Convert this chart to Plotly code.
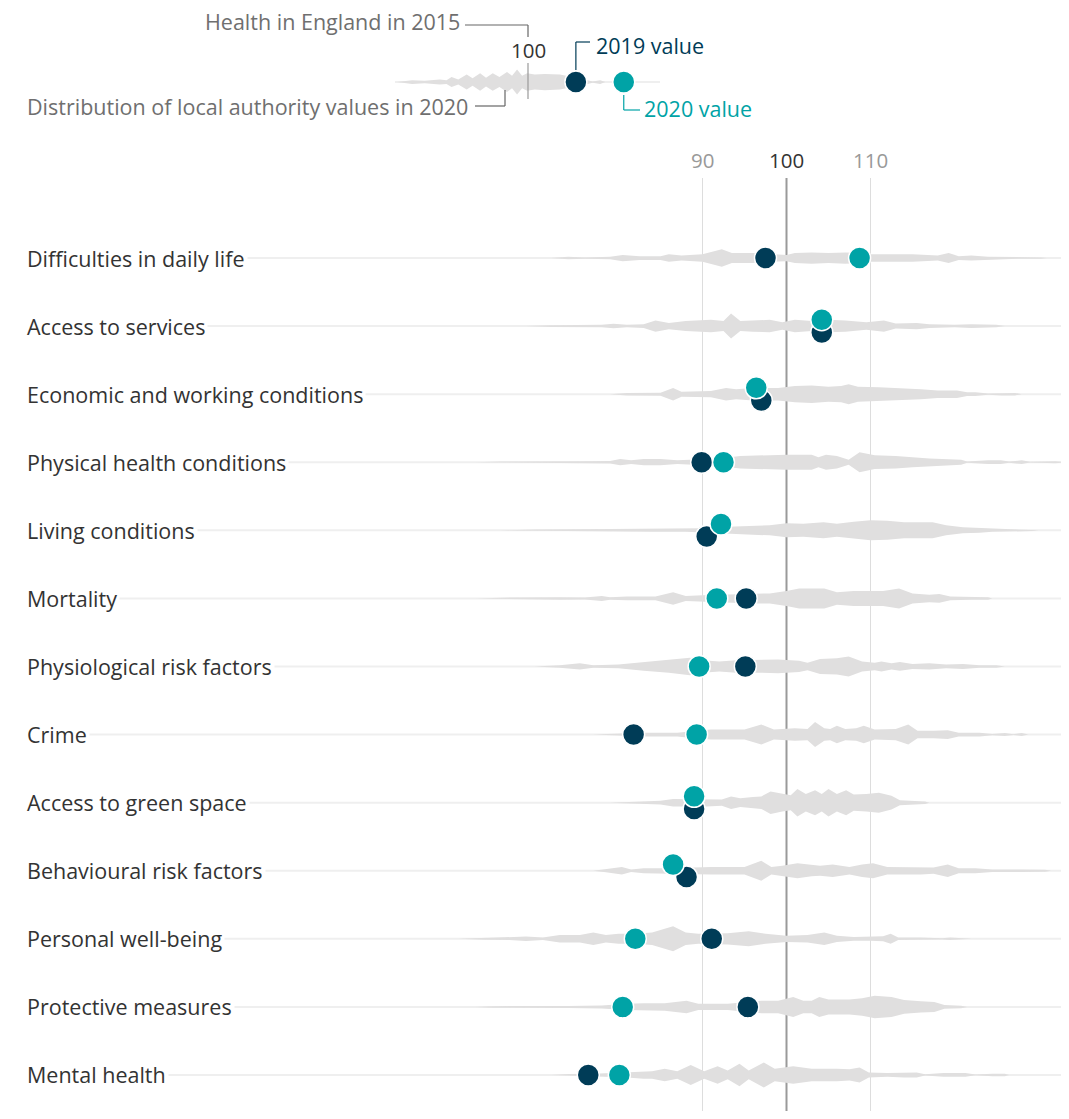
import plotly.graph_objects as go

# indicator rows, top to bottom
rows = ["Difficulties in daily life", "Access to services", "Economic and working conditions",
        "Physical health conditions", "Living conditions", "Mortality", "Physiological risk factors",
        "Crime", "Access to green space", "Behavioural risk factors", "Personal well-being",
        "Protective measures", "Mental health"]

# England index values (2015 = 100)
v2019 = [97.5, 104.2, 97.0, 89.9, 90.5, 95.2, 95.1, 81.8, 89.0, 88.1, 91.1, 95.4, 76.4]
v2020 = [108.7, 104.2, 96.4, 92.5, 92.2, 91.7, 89.6, 89.3, 89.0, 86.5, 82.0, 80.5, 80.1]

tick_vals = [90, 100, 110]

# distribution of local authority values in 2020, (value, density)
difficulties = [(72, 0), (74, 1), (76, 0.5), (79, 1), (80.5, 2.5), (82.5, 1.5), (85, 1.5), (86, 3), (87.5, 2),
                (90, 3), (92.3, 7), (93.5, 4), (96, 4), (98, 3), (100, 2.5), (101, 4), (103, 4.5), (105, 4),
                (107, 4.5), (108.7, 4), (110, 3), (112, 3), (115, 3), (118, 2), (119.3, 4), (120.5, 1.5),
                (122, 2), (124, 1), (126, 1), (128, 0.5), (130.3, 0.5), (131, 0)]
access = [(69, 0), (72, 0.7), (78, 1), (79.4, 1.8), (81, 1), (83, 1.5), (84.4, 4.5), (86, 2.5), (88, 4),
          (91, 5), (92.5, 4), (93.4, 10), (94.5, 4), (96, 4.5), (98, 5), (99.5, 3), (101, 5), (103, 4),
          (105, 5), (107, 4.5), (109.5, 3), (111.6, 4.5), (113, 2), (115.5, 2.5), (117, 1.5), (120, 1),
          (122, 1.5), (125, 1), (126, 0)]
economic = [(79, 0), (81, 1), (85, 1.2), (86.5, 5), (87.5, 2), (91, 2.5), (92.8, 5), (94, 4), (96, 5),
            (99, 5), (101, 6.5), (103, 7), (105, 6), (106.5, 6.5), (107.4, 8), (108.5, 6), (111, 5.5),
            (113, 5), (116, 4), (118, 3), (120.3, 3), (121.5, 1.5), (122.5, 1.5), (124, 0.5), (125.6, 1),
            (127.2, 1), (128, 0)]
physical = [(63, 0), (66, 0.6), (75, 0.8), (79, 1), (80.2, 2.5), (81.5, 1.5), (83, 2.5), (85, 2.5),
            (87, 1.5), (89, 2), (92, 3), (94.5, 5), (97, 5.5), (100, 6), (103, 6), (103.8, 4), (104.7, 6),
            (106, 5), (107.4, 2), (108.7, 8), (110.5, 5.5), (113, 5), (115, 4), (117, 3), (120.8, 2),
            (121.5, 0.5), (124, 1.5), (125.5, 1.5), (126.5, 0.5), (128, 1.5), (129, 0.3), (132, 0.8),
            (133.5, 0)]
living = [(66, 0), (70, 0.6), (79, 1), (84, 1.2), (88, 1.2), (90, 1.6), (93, 2.8), (96, 3.6), (98, 4),
          (100, 5.6), (102, 5.2), (104.4, 6.4), (106, 5.2), (108, 6.8), (110, 8), (112, 7.6), (114, 6.4),
          (117.4, 6.4), (119, 4), (121, 2.4), (123, 2), (124.5, 1.2), (126, 0.8), (129.4, 0.6), (130, 0)]
mortality = [(63, 0), (66, 0.6), (73, 1), (76, 0.8), (78, 2), (79, 1), (81, 1.5), (84.4, 1.5), (86.5, 5),
             (88, 2), (90, 2.5), (92, 3), (96, 4), (98, 4), (100, 6), (101.5, 8), (104.5, 8), (106, 5),
             (108, 6), (111.5, 6), (113.4, 8), (115, 4), (117, 3), (118.2, 3.5), (119.5, 1.5), (122, 1),
             (124, 1), (124.5, 0)]
physiological = [(70, 0), (73, 1), (75.4, 2.5), (77, 1), (80, 1.5), (83, 3.5), (86, 5), (88.5, 7), (90, 5),
                 (92, 4), (94, 5), (97, 5), (99, 5.5), (101.5, 4.5), (102.5, 3), (104, 6), (106, 6.5),
                 (107.4, 8), (109, 4), (110.5, 3), (111.3, 4), (112.5, 2.5), (113.5, 3.5), (115, 2),
                 (117, 2.5), (119, 1.5), (121, 2), (123, 1), (125, 1), (126, 0)]
crime = [(77, 0), (80, 0.8), (83, 1.5), (87, 1.5), (89, 3), (91, 4), (95, 4), (97, 8), (98.5, 4), (101, 5),
         (102.5, 4.5), (103.4, 10), (104.5, 5), (105.2, 4.5), (106, 7), (107, 4.5), (108.3, 5), (109.2, 7),
         (110.5, 4), (113, 4.5), (114.5, 8), (115.6, 3), (117.5, 3), (119.2, 3.5), (120.5, 1.5), (123, 1.5),
         (124.5, 0.5), (126, 1.2), (127, 0.3), (128, 1.2), (128.8, 0)]
green = [(79, 0), (82, 0.8), (85, 1.5), (86.5, 3), (88.5, 3), (90.5, 3), (92.3, 2.5), (93.4, 5), (94.5, 3.5),
         (96, 4.5), (97, 5), (98.1, 9), (99.5, 7), (100.5, 6), (101.3, 11), (102.3, 7), (103.4, 10),
         (104.2, 7), (105, 11), (106, 7), (107.1, 10), (108, 6.5), (109.5, 7), (111, 8), (112.5, 5.5),
         (113.5, 2), (116.5, 1), (117, 0)]
behavioural = [(77, 0), (78.5, 1.2), (80.4, 3), (81.5, 1), (83, 2), (86, 2), (88, 2.5), (91, 3), (95, 3),
               (97, 8), (98.2, 3), (99.5, 4), (101.3, 6), (103, 4.5), (104, 4), (105.5, 5), (107.5, 3),
               (109, 5), (110.3, 6), (112, 3), (114, 3), (116, 3), (117.5, 2.5), (119.2, 5), (120.5, 2),
               (122.5, 2), (124.5, 1), (128, 1), (130.8, 0.8), (131.5, 0)]
personal = [(61, 0), (64, 0.8), (67, 1), (69, 1.8), (71, 1), (73, 3), (75.4, 3), (77, 5), (78.5, 3), (80, 4),
            (82, 4), (84, 5), (86.5, 10), (88, 5), (89.5, 4), (91, 4), (93, 4.5), (95.5, 6), (97.5, 4),
            (100, 2.5), (102.5, 3), (104.5, 5), (106, 2.5), (108, 1.5), (110, 1.5), (111.5, 2), (112.4, 4),
            (113.3, 1), (116, 1), (118.5, 0.5), (119.5, 1), (121, 0.3), (122, 0)]
protective = [(63, 0), (65, 0.6), (74, 0.8), (78, 1.2), (81, 2.5), (83, 3), (85.5, 3), (88.1, 5), (89.5, 2.5),
              (93, 2.5), (97, 5), (99, 5), (100.8, 8), (102, 5), (103, 5), (103.9, 8), (105, 6), (107.5, 6),
              (109, 7), (110.5, 9), (112.5, 8), (114, 5.5), (116, 4.5), (117.6, 4), (118.8, 1.5),
              (120.8, 1), (121.5, 0)]
mental = [(72, 0), (74, 0.8), (77, 1), (81, 2), (83, 3), (84, 3), (85.5, 5), (87, 3), (88.6, 8), (90.2, 3),
          (91.8, 7), (93, 3.5), (94.4, 9), (95.5, 3.5), (97.3, 10), (98.6, 5), (100.8, 7), (103, 5), (106, 5),
          (107.5, 4.5), (108.7, 6), (109.8, 2), (112, 1.5), (114, 2), (115.5, 2), (116.5, 0.5),
          (118.7, 1.5), (121.3, 1.5), (122.5, 0.3), (124.5, 1), (126, 1), (126.5, 0)]

distributions = [difficulties, access, economic, physical, living, mortality, physiological,
                 crime, green, behavioural, personal, protective, mental]

# key example at the top
key_2019 = 105.7
key_2020 = 111.4
key_dist = [(84.4, 0), (86.2, 1.5), (87.7, 1), (89.5, 2), (90.3, 1.5), (90.9, 4), (91.7, 2), (92.7, 6),
            (93.4, 3), (94.3, 7), (95.0, 3.5), (95.8, 7), (96.6, 4), (97.5, 8), (98.1, 5), (98.7, 10),
            (99.3, 5), (99.9, 7), (100.8, 6), (102, 6.5), (103.8, 6), (104.7, 5), (106, 3), (107.1, 1.5),
            (107.7, 0.5), (108.6, 1.5), (109.2, 0)]

navy = '#003c57'
teal = '#00a3a6'
dist_grey = '#e0dfdf'
base_grey = '#efefef'
font_family = 'Open Sans'
txt = 21.5

PAGE = 8                 # body margin of the html page
W, H = 1069 - 2 * PAGE, 1119 - 2 * PAGE
px_unit = 8.4            # pixels per index point
x100 = 786.5             # screen position of 100 in the main chart
x100_key = 528           # screen position of 100 in the key
row_px = 68.08           # pixels between rows
row0_px = 258            # screen centre of first row
dens_scale = 1.25 / row_px  # density units -> y-axis half height

x_range = [100 + (PAGE - x100) / px_unit, 100 + (PAGE + W - x100) / px_unit]
x2_range = [100 + (PAGE - x100_key) / px_unit, 100 + (PAGE + W - x100_key) / px_unit]
y_range = [(PAGE + H - row0_px) / row_px, (PAGE - row0_px) / row_px]


def py(p):
    # screen pixel height to y-axis units
    return (p - row0_px) / row_px


def kx(p):
    # screen pixel to key axis units
    return 100 + (p - x100_key) / px_unit


key_y = py(82)

fig = go.Figure()


def add_dist(dist, yc, xaxis):
    xs = [d[0] for d in dist]
    hw = [d[1] * dens_scale for d in dist]
    fig.add_trace(go.Scatter(x=xs + xs[::-1],
                             y=[yc - h for h in hw] + [yc + h for h in hw[::-1]],
                             mode='lines', fill='toself', fillcolor=dist_grey, xaxis=xaxis,
                             line=dict(width=0, color=dist_grey), hoverinfo='skip'))


# row baselines across the full width
for i in range(len(rows)):
    fig.add_trace(go.Scatter(x=[x_range[0] + 3, x_range[1]], y=[i, i], mode='lines',
                             line=dict(color=base_grey, width=2), hoverinfo='skip'))
fig.add_trace(go.Scatter(x=[kx(395), kx(660)], y=[key_y, key_y], mode='lines', xaxis='x2',
                         line=dict(color=base_grey, width=2), hoverinfo='skip'))

for i, dist in enumerate(distributions):
    add_dist(dist, i, 'x')

add_dist(key_dist, key_y, 'x2')

# dots - nudge apart vertically if they would overlap
off = 6.3 / row_px
y19, y20 = [], []
for i in range(len(rows)):
    if abs(v2019[i] - v2020[i]) * px_unit < 18:
        y19.append(i + off)
        y20.append(i - off)
    else:
        y19.append(i)
        y20.append(i)

mk = dict(size=22, line=dict(color='white', width=1.5))
fig.add_trace(go.Scatter(x=v2019, y=y19, mode='markers', name='2019',
                         marker=dict(color=navy, **mk)))
fig.add_trace(go.Scatter(x=v2020, y=y20, mode='markers', name='2020',
                         marker=dict(color=teal, **mk)))
fig.add_trace(go.Scatter(x=[key_2019], y=[key_y], mode='markers', xaxis='x2',
                         marker=dict(color=navy, **mk)))
fig.add_trace(go.Scatter(x=[key_2020], y=[key_y], mode='markers', xaxis='x2',
                         marker=dict(color=teal, **mk)))

shapes = []
annotations = []

# gridlines + tick labels
for t in tick_vals:
    shapes.append(dict(type='line', xref='x', yref='y', x0=t, x1=t, y0=py(178), y1=y_range[0],
                       line=dict(color='#9a9a9a' if t == 100 else '#dddddd', width=2 if t == 100 else 1),
                       layer='below'))
    annotations.append(dict(xref='x', yref='y', x=t, y=py(160), text=str(t), showarrow=False,
                            font=dict(size=20.5, color='#333333' if t == 100 else '#999999')))

# row labels
for i, r in enumerate(rows):
    annotations.append(dict(xref='paper', yref='y', x=(24 - PAGE) / W, y=i, text=r, showarrow=False,
                            xanchor='left', bgcolor='white', borderpad=2,
                            font=dict(size=txt, color='#333333')))


# key
def seg(x0, y0, x1, y1, color):
    shapes.append(dict(type='line', xref='x2', yref='y', x0=x0, x1=x1, y0=y0, y1=y1,
                       line=dict(color=color, width=1.2)))


seg(100, py(63), 100, py(99), '#9a9a9a')
annotations.append(dict(xref='x2', yref='y', x=100, y=py(50), text='100', showarrow=False,
                        font=dict(size=20.5, color='#333333')))

seg(kx(465), py(25), 100, py(25), '#666666')
seg(100, py(25), 100, py(37), '#666666')
annotations.append(dict(xref='x2', yref='y', x=kx(462), y=py(21), text='Health in England in 2015',
                        showarrow=False, xanchor='right', font=dict(size=txt, color='#6f6f6f')))

seg(kx(475), py(106), kx(505), py(106), '#666666')
seg(kx(505), py(106), kx(505), py(90), '#666666')
annotations.append(dict(xref='x2', yref='y', x=kx(470), y=py(106),
                        text='Distribution of local authority values in 2020',
                        showarrow=False, xanchor='right', font=dict(size=txt, color='#6f6f6f')))

seg(key_2019, py(70), key_2019, py(42), navy)
seg(key_2019, py(42), kx(590), py(42), navy)
annotations.append(dict(xref='x2', yref='y', x=kx(594), y=py(45), text='2019 value',
                        showarrow=False, xanchor='left', font=dict(size=txt, color=navy)))

seg(key_2020, py(95), key_2020, py(110), teal)
seg(key_2020, py(110), kx(640), py(110), teal)
annotations.append(dict(xref='x2', yref='y', x=kx(642), y=py(108), text='2020 value',
                        showarrow=False, xanchor='left', font=dict(size=txt, color=teal)))

fig.update_layout(
    width=W, height=H,
    margin=dict(l=0, r=0, t=0, b=0),
    plot_bgcolor='white', paper_bgcolor='white',
    showlegend=False,
    font=dict(family=font_family),
    xaxis=dict(range=x_range, visible=False, fixedrange=True),
    xaxis2=dict(range=x2_range, overlaying='x', visible=False, fixedrange=True),
    yaxis=dict(range=y_range, visible=False, fixedrange=True),
    shapes=shapes,
    annotations=annotations)

fig.write_html("out.html")
